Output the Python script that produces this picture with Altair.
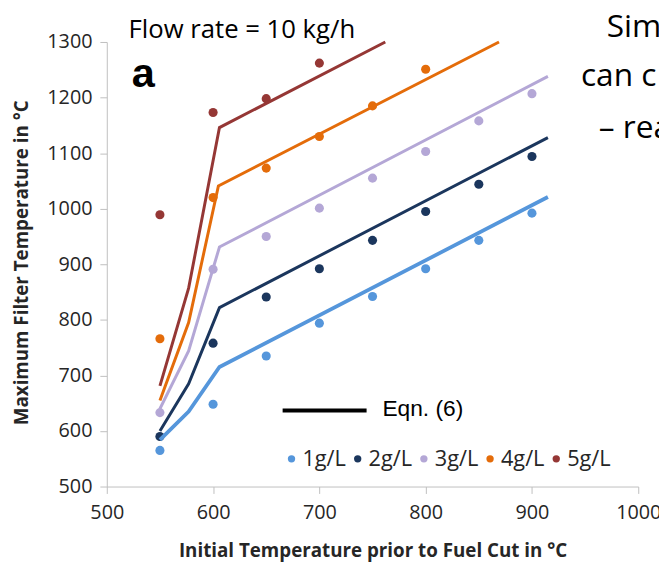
import altair as alt
import pandas as pd

# ---------------- data ----------------
series_names = ["1g/L", "2g/L", "3g/L", "4g/L", "5g/L"]
series_colors = ["#5596DB", "#1B365D", "#B4A7D6", "#E46C0A", "#953735"]

meas_x = [550, 600, 650, 700, 750, 800, 850, 900]
meas_1 = [565, 648, 735, 794, 842, 892, 943, 992]
meas_2 = [590, 758, 841, 892, 943, 995, 1044, 1094]
meas_3 = [633, 891, 950, 1001, 1055, 1103, 1158, 1207]
meas_4 = [766, 1020, 1073, 1130, 1185, 1251]
meas_5 = [989, 1173, 1198, 1262]

eqn_x_1 = [550, 577, 606, 915]
eqn_y_1 = [584, 635, 715, 1021]
eqn_x_2 = [550, 577, 606, 915]
eqn_y_2 = [600, 685, 822, 1128]
eqn_x_3 = [550, 577, 606, 915]
eqn_y_3 = [640, 744, 931, 1238]
eqn_x_4 = [550, 577, 605, 869]
eqn_y_4 = [655, 795, 1041, 1300]
eqn_x_5 = [550, 577, 606, 762]
eqn_y_5 = [681, 857, 1146, 1300]

x_ticks = [500, 600, 700, 800, 900, 1000]
y_ticks = [500, 600, 700, 800, 900, 1000, 1100, 1200, 1300]

x_title = "Initial Temperature prior to Fuel Cut in °C"
y_title = "Maximum Filter Temperature in °C"
flow_text = "Flow rate = 10 kg/h"
panel_letter = "a"
eqn_label = "Eqn. (6)"
side_lines = ["Simp", "can c", "– rea"]

# ---------------- tables ----------------
meas_sets = [meas_1, meas_2, meas_3, meas_4, meas_5]
pts_rows = []
for name, ys in zip(series_names, meas_sets):
    for xv, yv in zip(meas_x, ys):
        pts_rows.append({"x": xv, "y": yv, "series": name})
pts = pd.DataFrame(pts_rows)

eqn_sets = [(eqn_x_1, eqn_y_1), (eqn_x_2, eqn_y_2), (eqn_x_3, eqn_y_3),
            (eqn_x_4, eqn_y_4), (eqn_x_5, eqn_y_5)]
line_rows = []
for name, (xs, ys) in zip(series_names, eqn_sets):
    for i, (xv, yv) in enumerate(zip(xs, ys)):
        line_rows.append({"x": xv, "y": yv, "series": name, "order": i})
lines = pd.DataFrame(line_rows)

one = pd.DataFrame({"k": [0]})

FONT = "Open Sans"
TXT = "#262626"
GRID = "#BFBFBF"

xscale = alt.Scale(domain=[500, 1000], nice=False, zero=False)
yscale = alt.Scale(domain=[500, 1300], nice=False, zero=False)
cscale = alt.Scale(domain=series_names, range=series_colors)

xaxis = alt.Axis(values=x_ticks, format="d", title=x_title, grid=False,
                 domainColor=GRID, tickColor=GRID, tickSize=7, labelFont=FONT,
                 labelFontSize=20, labelColor=TXT, labelPadding=9,
                 labelFlush=False, titleFont=FONT, titleFontWeight="bold",
                 titleFontSize=19, titleColor=TXT, titleX=269, titleY=65,
                 titleBaseline="middle", titleAlign="center")
yaxis = alt.Axis(values=y_ticks, format="d", title=y_title, grid=False,
                 domainColor=GRID, tickColor=GRID, tickSize=7, labelFont=FONT,
                 labelFontSize=20, labelColor=TXT, labelPadding=8,
                 labelFlush=False, titleFont=FONT, titleFontWeight="bold",
                 titleFontSize=19, titleColor=TXT, titleX=-86, titleY=223,
                 titleBaseline="middle", titleAlign="center", titleAngle=-90)

points = alt.Chart(pts).mark_circle(size=85, opacity=1).encode(
    x=alt.X("x:Q", scale=xscale, axis=xaxis),
    y=alt.Y("y:Q", scale=yscale, axis=yaxis),
    color=alt.Color("series:N", scale=cscale, sort=series_names,
                    legend=alt.Legend(orient="none", legendX=176, legendY=411,
                                      direction="horizontal", title=None,
                                      symbolType="circle", symbolSize=55,
                                      symbolStrokeWidth=0,
                                      labelFont=FONT, labelFontSize=22,
                                      labelColor=TXT, labelOffset=0,
                                      columnPadding=0, padding=0)),
)

eqn = alt.Chart(lines).mark_line().encode(
    x=alt.X("x:Q", scale=xscale),
    y=alt.Y("y:Q", scale=yscale),
    color=alt.Color("series:N", scale=cscale, legend=None),
    strokeWidth=alt.condition(alt.datum.series == series_names[0],
                              alt.value(3.8), alt.value(3)),
    detail="series:N",
    order="order:Q",
)

eqn_rule = alt.Chart(one).mark_rule(color="black", strokeWidth=4).encode(
    x=alt.value(178), x2=alt.value(263), y=alt.value(373)
)
eqn_text = alt.Chart(one).mark_text(text=eqn_label, font="Liberation Sans",
                                    fontSize=23, align="left", baseline="middle",
                                    color="black").encode(
    x=alt.value(279), y=alt.value(372)
)
letter = alt.Chart(one).mark_text(text=panel_letter, font="Liberation Sans",
                                  fontSize=42, fontWeight="bold", align="center",
                                  baseline="middle", color="black").encode(
    x=alt.value(37), y=alt.value(33)
)
flow = alt.Chart(one).mark_text(text=flow_text, font=FONT, fontSize=26,
                                align="left", baseline="alphabetic",
                                color="black").encode(
    x=alt.value(22), y=alt.value(-4)
)
side = [
    alt.Chart(one).mark_text(text=side_lines[0], font=FONT, fontSize=32,
                             align="left", baseline="alphabetic",
                             color="black").encode(x=alt.value(506), y=alt.value(-5)),
    alt.Chart(one).mark_text(text=side_lines[1], font=FONT, fontSize=32,
                             align="left", baseline="alphabetic",
                             color="black").encode(x=alt.value(480), y=alt.value(45)),
    alt.Chart(one).mark_text(text=side_lines[2], font=FONT, fontSize=32,
                             align="left", baseline="alphabetic",
                             color="black").encode(x=alt.value(498), y=alt.value(97)),
]

chart = alt.layer(points, eqn, eqn_rule, eqn_text, letter, flow, *side).properties(
    width=538, height=450,
    autosize=alt.AutoSizeParams(type="none"),
    padding={"left": 100, "top": 31, "right": 21, "bottom": 73},
    background="white",
).configure_view(strokeWidth=0)

chart.save("out.html", embed_options={"renderer": "svg", "actions": False})
